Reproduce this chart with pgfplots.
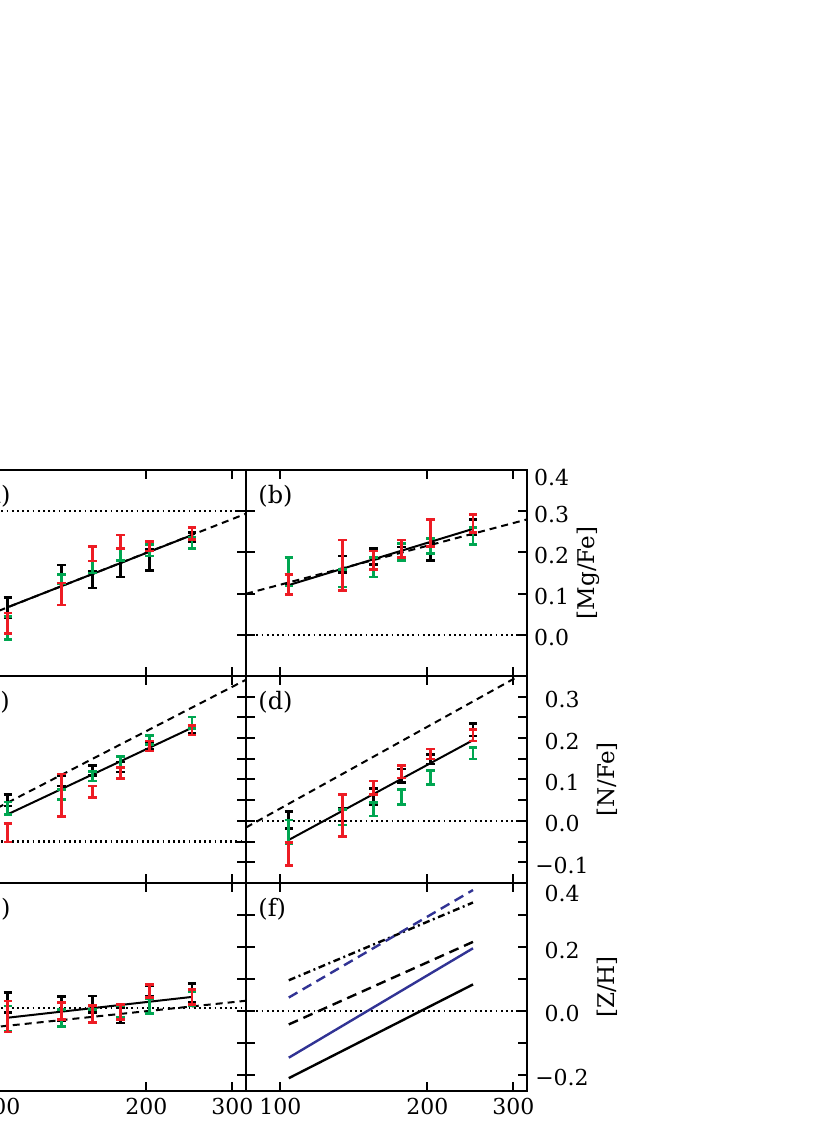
\documentclass[border=0pt]{standalone}
\usepackage{fontspec}
\setmainfont{DejaVu Serif}
\usepackage{pgfplots}
\pgfplotsset{compat=1.18}
\definecolor{ebgreen}{RGB}{0,166,81}
\definecolor{ebred}{RGB}{237,28,36}
\definecolor{zblue}{RGB}{49,51,148}

\pgfplotsset{
  every axis/.append style={
    scale only axis, width=140.5pt, anchor=north west,
    xmode=log, xmin=85, xmax=320,
    xtick={100,200,300}, xticklabels={}, minor xtick={},
    yticklabels={},
    tick align=inside, xtick pos=both, ytick pos=both,
    major tick length=4.5pt, minor tick length=4.5pt,
    tick style={black, line width=1pt},
    axis line style={line width=1.15pt},
    every tick label/.append style={font=\fontsize{11}{13}\selectfont},
  },
  rowtop/.style={height=103pt, ymin=-0.1, ymax=0.4, ytick={0,0.1,0.2,0.3,0.4}},
  rowmid/.style={height=103.5pt, ymin=-0.15, ymax=0.35, ytick={-0.1,0,0.1,0.2,0.3},
    minor ytick={-0.05,0.05,0.15,0.25}},
  rowbot/.style={height=104pt, ymin=-0.25, ymax=0.4, ytick={-0.2,-0.1,0,0.1,0.2,0.3,0.4}},
  ebar/.style={draw=none, mark=none, error bars/.cd, y dir=both, y explicit,
    error bar style={draw=#1, solid, line width=1.3pt},
    error mark options={draw=#1, solid, rotate=90, line width=1.3pt, mark size=2.1pt}},
  fitline/.style={black, line width=1pt},
  refline/.style={black, line width=1pt, dash pattern=on 3.5pt off 2.5pt},
  zeroline/.style={black, line width=1.1pt, dash pattern=on 0.9pt off 1.7pt},
}
\tikzset{plabel/.style={anchor=north west, inner sep=0pt, font=\fontsize{12}{14}\selectfont}}

\begin{document}
\begin{tikzpicture}
\useasboundingbox (0,0) rectangle (415pt,563.5pt);
\clip (0,0) rectangle (415pt,563.5pt);

% (a)
\begin{axis}[rowtop, at={(-17.5pt,328.5pt)}]
  \addplot[zeroline] coordinates {(85,0.3) (320,0.3)};
  \addplot[refline] coordinates {(85,0.026) (320,0.294)};
  \addplot[fitline] coordinates {(104,0.067) (248,0.242)};
  \addplot[ebar=black] coordinates {(104,0.0655) +- (0,0.0245) (134,0.1465) +- (0,0.0225) (155,0.1345) +- (0,0.0205) (177,0.1595) +- (0,0.0195) (203,0.1815) +- (0,0.0255) (248,0.2375) +- (0,0.0105)};
  \addplot[ebar=ebgreen] coordinates {(104,0.017) +- (0,0.028) (134,0.135) +- (0,0.011) (155,0.1645) +- (0,0.0145) (177,0.1955) +- (0,0.0155) (203,0.205) +- (0,0.014) (248,0.2225) +- (0,0.0135)};
  \addplot[ebar=ebred] coordinates {(104,0.028) +- (0,0.025) (134,0.099) +- (0,0.027) (155,0.197) +- (0,0.018) (177,0.2255) +- (0,0.0165) (203,0.215) +- (0,0.012) (248,0.246) +- (0,0.015)};
  \node[plabel] at (rel axis cs:0.043,0.927) {(a)};
\end{axis}

% (b)
\begin{axis}[rowtop, at={(123pt,328.5pt)},
  yticklabel pos=right, yticklabels={0.0,0.1,0.2,0.3,\raisebox{-2.5pt}[\height][\depth]{0.4}},
  yticklabel style={anchor=center, xshift=12.25pt, yshift=-1.5pt},
  ylabel={[Mg/Fe]}, ylabel style={at={(axis description cs:1.217,0.5)}, anchor=center, font=\fontsize{11.5}{13}\selectfont}]
  \addplot[zeroline] coordinates {(85,0) (320,0)};
  \addplot[refline] coordinates {(85,0.0996) (320,0.280)};
  \addplot[fitline] coordinates {(104,0.1206) (248,0.257)};
  \addplot[ebar=black] coordinates {(104,0.1345) +- (0,0.0135) (134,0.171) +- (0,0.020) (155,0.1905) +- (0,0.0195) (177,0.200) +- (0,0.013) (203,0.202) +- (0,0.021) (248,0.261) +- (0,0.019)};
  \addplot[ebar=ebgreen] coordinates {(104,0.1525) +- (0,0.0345) (134,0.1375) +- (0,0.0215) (155,0.1635) +- (0,0.0235) (177,0.2005) +- (0,0.0205) (203,0.2155) +- (0,0.0185) (248,0.240) +- (0,0.021)};
  \addplot[ebar=ebred] coordinates {(104,0.1225) +- (0,0.0245) (134,0.169) +- (0,0.061) (155,0.181) +- (0,0.022) (177,0.2085) +- (0,0.0215) (203,0.2475) +- (0,0.0325) (248,0.270) +- (0,0.022)};
  \node[plabel] at (rel axis cs:0.043,0.927) {(b)};
\end{axis}

% (c)
\begin{axis}[rowmid, at={(-17.5pt,225.5pt)}]
  \addplot[zeroline] coordinates {(85,-0.05) (320,-0.05)};
  \addplot[refline] coordinates {(85,-0.009) (320,0.341)};
  \addplot[fitline] coordinates {(104,0.016) (248,0.225)};
  \addplot[ebar=black] coordinates {(104,0.050) +- (0,0.014) (134,0.096) +- (0,0.012) (155,0.122) +- (0,0.012) (177,0.130) +- (0,0.012) (203,0.181) +- (0,0.009) (248,0.222) +- (0,0.010)};
  \addplot[ebar=ebgreen] coordinates {(104,0.031) +- (0,0.015) (134,0.0635) +- (0,0.0125) (155,0.108) +- (0,0.012) (177,0.142) +- (0,0.013) (203,0.1955) +- (0,0.0105) (248,0.237) +- (0,0.014)};
  \addplot[ebar=ebred] coordinates {(104,-0.0285) +- (0,0.0225) (134,0.0615) +- (0,0.0515) (155,0.070) +- (0,0.014) (177,0.1155) +- (0,0.0135) (203,0.181) +- (0,0.012) (248,0.219) +- (0,0.012)};
  \node[plabel] at (rel axis cs:0.043,0.927) {(c)};
\end{axis}

% (d)
\begin{axis}[rowmid, at={(123pt,225.5pt)},
  yticklabel pos=right, yticklabels={−0.1,0.0,0.1,0.2,0.3},
  yticklabel style={anchor=center, xshift=17.5pt, yshift=-1.5pt},
  ylabel={[N/Fe]}, ylabel style={at={(axis description cs:1.285,0.5)}, anchor=center, font=\fontsize{11.5}{13}\selectfont}]
  \addplot[zeroline] coordinates {(85,0) (320,0)};
  \addplot[refline] coordinates {(85,-0.016) (320,0.361)};
  \addplot[fitline] coordinates {(104,-0.046) (248,0.195)};
  \addplot[ebar=black] coordinates {(104,0.002) +- (0,0.020) (134,0.015) +- (0,0.015) (155,0.059) +- (0,0.019) (177,0.1085) +- (0,0.0165) (203,0.149) +- (0,0.012) (248,0.220) +- (0,0.015)};
  \addplot[ebar=ebgreen] coordinates {(104,-0.027) +- (0,0.029) (134,0.009) +- (0,0.019) (155,0.028) +- (0,0.016) (177,0.058) +- (0,0.018) (203,0.1045) +- (0,0.0165) (248,0.163) +- (0,0.014)};
  \addplot[ebar=ebred] coordinates {(104,-0.080) +- (0,0.028) (134,0.013) +- (0,0.051) (155,0.080) +- (0,0.016) (177,0.119) +- (0,0.015) (203,0.1615) +- (0,0.0125) (248,0.207) +- (0,0.014)};
  \node[plabel] at (rel axis cs:0.043,0.927) {(d)};
\end{axis}

% (e)
\begin{axis}[rowbot, at={(-17.5pt,122pt)},
  xticklabels={100,200,300}]
  \addplot[zeroline] coordinates {(85,0.0105) (320,0.0105)};
  \addplot[refline] coordinates {(85,-0.060) (320,0.032)};
  \addplot[fitline] coordinates {(104,-0.021) (248,0.044)};
  \addplot[ebar=black] coordinates {(104,0.026) +- (0,0.031) (134,0.007) +- (0,0.038) (155,0.021) +- (0,0.026) (177,-0.014) +- (0,0.024) (203,0.0625) +- (0,0.0155) (248,0.0555) +- (0,0.0295)};
  \addplot[ebar=ebgreen] coordinates {(104,-0.023) +- (0,0.039) (134,-0.022) +- (0,0.027) (155,-0.0165) +- (0,0.0215) (177,-0.0025) +- (0,0.0185) (203,0.016) +- (0,0.023) (248,0.0375) +- (0,0.0215)};
  \addplot[ebar=ebred] coordinates {(104,-0.0175) +- (0,0.0485) (134,0.000) +- (0,0.026) (155,-0.009) +- (0,0.027) (177,-0.0025) +- (0,0.0235) (203,0.0625) +- (0,0.0205) (248,0.0445) +- (0,0.0235)};
  \node[plabel] at (rel axis cs:0.043,0.927) {(e)};
\end{axis}

% (f)
\begin{axis}[rowbot, at={(123pt,122pt)},
  xticklabels={100,200,300},
  yticklabel pos=right, yticklabels={−0.2,,0.0,,0.2,,\raisebox{-3.5pt}[\height][\depth]{0.4}},
  yticklabel style={anchor=center, xshift=17.5pt, yshift=-1.5pt},
  ylabel={[Z/H]}, ylabel style={at={(axis description cs:1.285,0.5)}, anchor=center, font=\fontsize{11.5}{13}\selectfont}]
  \addplot[zeroline] coordinates {(85,0) (320,0)};
  \addplot[black, line width=1.2pt] coordinates {(104,-0.210) (248,0.083)};
  \addplot[zblue, line width=1.2pt] coordinates {(104,-0.146) (248,0.196)};
  \addplot[black, line width=1.2pt, dash pattern=on 5pt off 3pt] coordinates {(104,-0.042) (248,0.216)};
  \addplot[black, line width=1.2pt, dash pattern=on 3.5pt off 1.8pt on 1pt off 1.8pt] coordinates {(104,0.096) (248,0.339)};
  \addplot[zblue, line width=1.2pt, dash pattern=on 5pt off 3pt] coordinates {(104,0.042) (248,0.378)};
  \node[plabel] at (rel axis cs:0.043,0.927) {(f)};
\end{axis}
\end{tikzpicture}
\end{document}
